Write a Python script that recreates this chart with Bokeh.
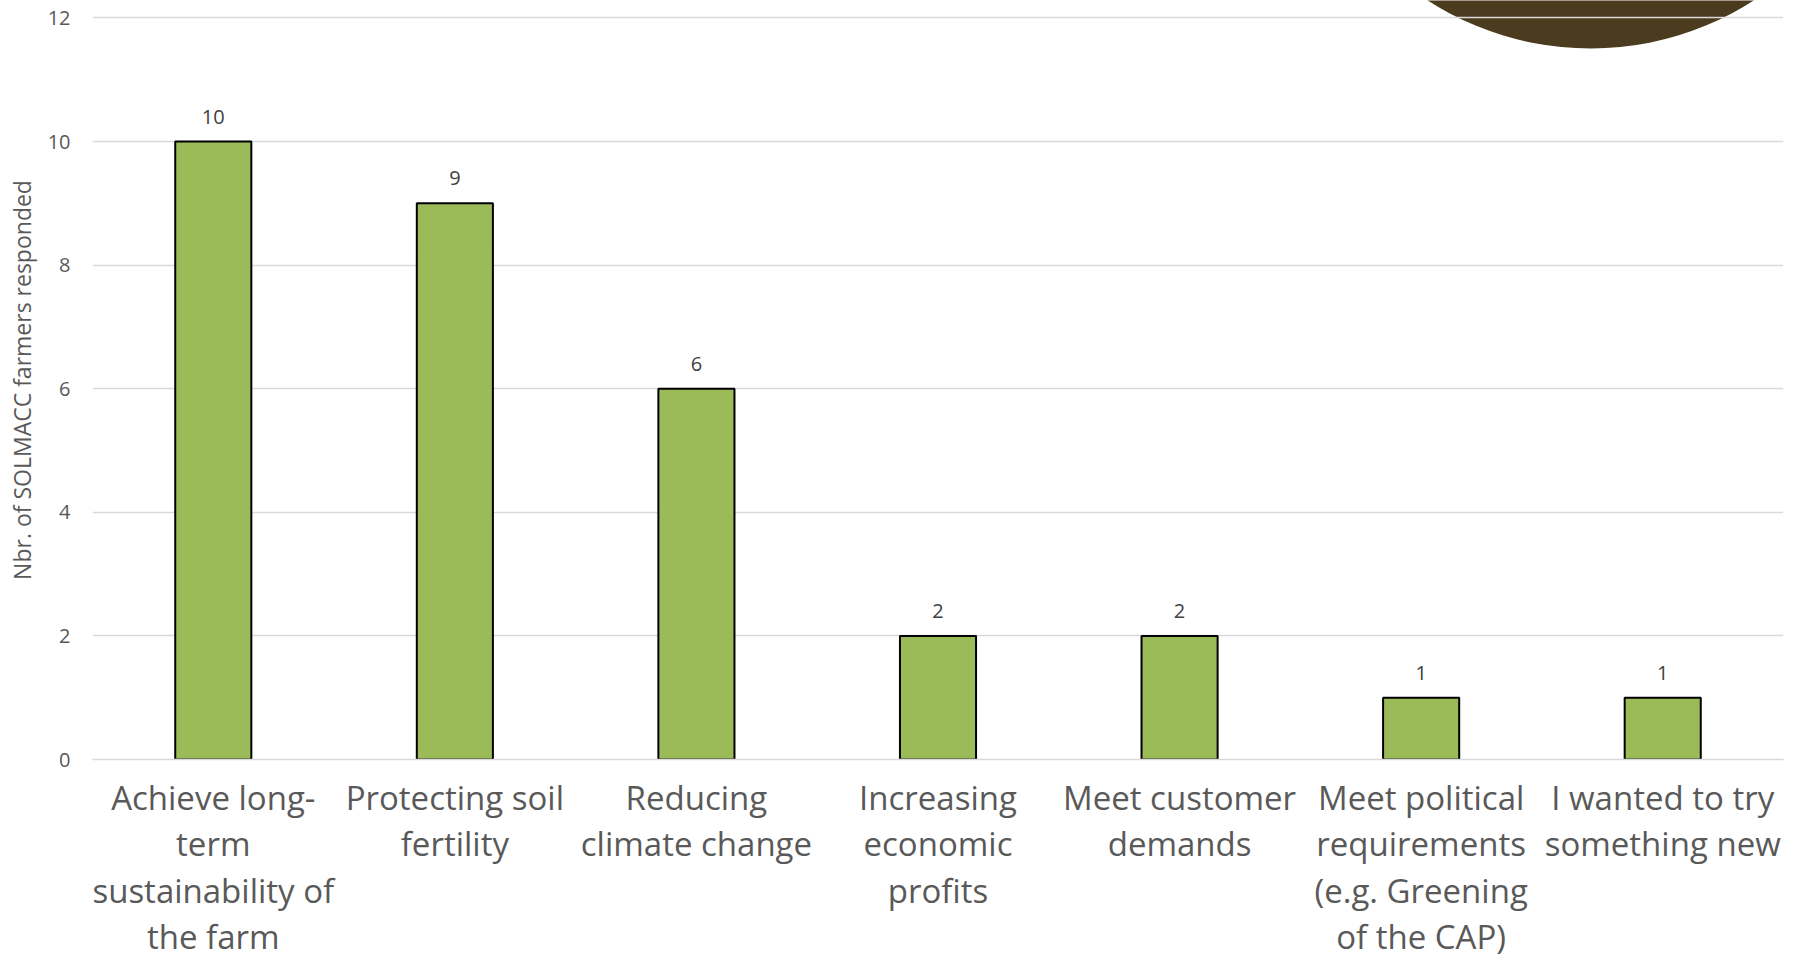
from bokeh.plotting import figure
from bokeh.models import FactorRange, Range1d, LabelSet, ColumnDataSource, FixedTicker
from bokeh.core.properties import value
from bokeh.transform import dodge
from bokeh.embed import file_html
from bokeh.resources import INLINE

categories = [
    "Achieve long-\nterm\nsustainability of\nthe farm",
    "Protecting soil\nfertility",
    "Reducing\nclimate change",
    "Increasing\neconomic\nprofits",
    "Meet customer\ndemands",
    "Meet political\nrequirements\n(e.g. Greening\nof the CAP)",
    "I wanted to try\nsomething new",
]
responses = [10, 9, 6, 2, 2, 1, 1]
y_ticks = [0, 2, 4, 6, 8, 10, 12]
y_title = "Nbr. of SOLMACC farmers responded"

FONT = "Open Sans"
TEXT = "#595959"

src = ColumnDataSource(dict(cat=categories, val=responses, lab=[str(v) for v in responses]))

p = figure(
    x_range=FactorRange(*categories),
    y_range=Range1d(0, 12.283),
    width=1796, height=962,
    output_backend="svg", toolbar_location=None,
    min_border_left=92, min_border_right=13, min_border_top=0, min_border_bottom=10,
    outline_line_color=None,
)

# decorative brown disc (slide background), behind the grid
deco = ColumnDataSource(dict(c=[categories[-1]], y=[16.375]))
p.circle(x=dodge("c", -0.298, range=p.x_range), y="y", source=deco,
         radius=301, radius_units="screen",
         fill_color="#4B3B1F", line_color=None, level="image")

p.vbar(x="cat", top="val", width=0.315, source=src,
       fill_color="#9BBB59", line_color="#000000", line_width=2)

labels = LabelSet(x="cat", y="val", text="lab", source=src, y_offset=25,
                  text_align="center", text_baseline="middle",
                  text_font=value(FONT), text_font_size=value("20px"), text_color="#404040")
p.add_layout(labels)

p.xgrid.grid_line_color = None
p.ygrid.grid_line_color = "#d9d9d9"
p.ygrid.grid_line_width = 1.5
p.yaxis.ticker = FixedTicker(ticks=y_ticks)

p.yaxis.axis_line_color = None
p.yaxis.major_tick_line_color = None
p.yaxis.minor_tick_line_color = None
p.yaxis.major_tick_out = 0
p.yaxis.major_tick_in = 0
p.yaxis.major_label_standoff = 22
p.yaxis.major_label_text_font = FONT
p.yaxis.major_label_text_font_size = "20px"
p.yaxis.major_label_text_color = TEXT
p.yaxis.axis_label = y_title
p.yaxis.axis_label_text_font = FONT
p.yaxis.axis_label_text_font_size = "23px"
p.yaxis.axis_label_text_font_style = "normal"
p.yaxis.axis_label_text_color = TEXT
p.yaxis.axis_label_standoff = 7

p.xaxis.axis_line_color = "#d9d9d9"
p.xaxis.axis_line_width = 1.5
p.xaxis.major_tick_line_color = None
p.xaxis.major_tick_out = 0
p.xaxis.major_tick_in = 0
p.xaxis.major_label_standoff = 15
p.xaxis.major_label_text_font = FONT
p.xaxis.major_label_text_font_size = "33px"
p.xaxis.major_label_text_color = TEXT
p.xaxis.major_label_text_line_height = 1.034

open("out.html", "w").write(file_html(p, INLINE))
